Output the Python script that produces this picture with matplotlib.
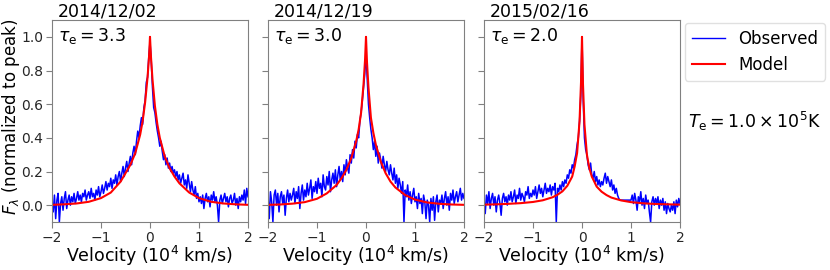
import numpy as np
import matplotlib
matplotlib.use("Agg")
import matplotlib.pyplot as plt
from matplotlib.lines import Line2D

# epochs and fitted optical depths
datas = ["2014/12/02", "2014/12/19", "2015/02/16"]
taus = ["3.3", "3.0", "2.0"]

# observed spectra, sampled from -2 to 2 (10^4 km/s)
v_min, v_max = -2.0, 2.0

obs_1 = [
    0.02, -0.04, 0.06, -0.08, 0.03, 0.07, -0.10, 0.01, 0.05, -0.03, 0.04, 0.08, -0.02, 0.03, 0.06, 0.00, 0.05, 0.02, 0.07, 0.01,
    0.04, 0.08, 0.03, 0.06, 0.02, 0.07, 0.05, 0.09, 0.03, 0.06, 0.08, 0.04, 0.10, 0.05, 0.07, 0.03, 0.09, 0.06, 0.11, 0.05,
    0.08, 0.12, 0.07, 0.10, 0.14, 0.09, 0.13, 0.11, 0.16, 0.10, 0.15, 0.13, 0.18, 0.12, 0.17, 0.20, 0.14, 0.19, 0.23, 0.17,
    0.22, 0.26, 0.20, 0.25, 0.29, 0.24, 0.31, 0.35, 0.30, 0.38, 0.44, 0.40, 0.47, 0.52, 0.48, 0.58, 0.62, 0.73, 0.76, 0.88,
    0.97,
    0.86, 0.70, 0.58, 0.55, 0.49, 0.44, 0.40, 0.35, 0.38, 0.32, 0.27, 0.30, 0.24, 0.28, 0.22, 0.25, 0.20, 0.23, 0.19, 0.21,
    0.17, 0.20, 0.15, 0.18, 0.13, 0.16, 0.19, 0.12, 0.15, 0.10, 0.18, 0.13, 0.08, 0.14, 0.09, 0.06, 0.11, 0.04, 0.07, 0.02,
    0.05, 0.01, 0.06, -0.02, 0.04, 0.07, 0.02, 0.05, -0.01, 0.06, 0.03, 0.08, 0.02, 0.05, 0.00, -0.10, 0.03, 0.06, 0.01, 0.04,
    0.07, 0.02, 0.05, -0.01, 0.04, 0.06, 0.01, 0.03, 0.07, 0.00, 0.04, -0.02, 0.05, 0.02, 0.06, 0.03, 0.09, 0.01, 0.10, 0.05,
]
obs_2 = [
    0.05, -0.08, 0.08, 0.02, -0.10, 0.06, 0.09, 0.00, 0.07, -0.04, 0.05, 0.08, 0.01, 0.06, -0.06, 0.04, 0.09, 0.02, 0.07, 0.03,
    0.06, 0.10, 0.01, 0.08, 0.04, 0.11, -0.02, 0.07, 0.12, 0.03, 0.09, 0.05, 0.13, 0.06, 0.10, 0.15, 0.04, 0.11, 0.08, 0.14,
    0.07, 0.16, 0.10, 0.13, 0.05, 0.18, 0.11, 0.09, 0.17, 0.12, 0.20, 0.08, 0.15, 0.19, 0.13, 0.21, 0.11, 0.18, 0.23, 0.15,
    0.20, 0.14, 0.24, 0.18, 0.27, 0.22, 0.19, 0.30, 0.25, 0.33, 0.28, 0.38, 0.34, 0.42, 0.40, 0.50, 0.55, 0.62, 0.70, 0.78,
    0.90,
    0.75, 0.60, 0.52, 0.45, 0.40, 0.33, 0.38, 0.29, 0.35, 0.25, 0.31, 0.27, 0.22, 0.29, 0.24, 0.20, 0.26, 0.21, 0.18, 0.24,
    0.19, 0.15, 0.22, 0.13, 0.18, 0.10, 0.16, 0.12, 0.07, 0.14, -0.10, 0.09, 0.05, 0.12, 0.03, 0.08, 0.01, 0.06, 0.10, 0.02,
    0.05, -0.02, 0.07, 0.01, 0.04, -0.05, 0.06, 0.02, -0.08, 0.03, 0.00, -0.10, 0.04, -0.03, 0.05, -0.09, 0.02, 0.06, -0.04, 0.03,
    0.01, 0.06, -0.02, 0.04, 0.08, 0.00, 0.05, -0.03, 0.07, 0.03, 0.09, 0.01, 0.05, 0.08, 0.02, 0.06, 0.10, 0.03, 0.07, 0.04,
]
obs_3 = [
    0.03, -0.05, 0.06, 0.01, 0.08, -0.02, 0.04, 0.07, 0.00, 0.05, -0.04, 0.03, 0.06, 0.01, -0.06, 0.04, 0.07, 0.02, 0.05, 0.00,
    0.06, 0.03, 0.08, 0.02, 0.05, 0.09, 0.01, 0.06, 0.04, 0.10, 0.03, 0.07, 0.05, 0.02, 0.08, 0.06, 0.11, 0.04, 0.07, 0.05,
    0.09, 0.06, 0.11, 0.04, 0.08, 0.12, 0.07, 0.10, 0.05, 0.09, 0.13, 0.07, 0.10, 0.08, 0.12, 0.06, 0.11, 0.09, 0.13, -0.10,
    0.10, 0.08, 0.12, 0.09, 0.14, 0.11, 0.15, 0.13, 0.18, 0.16, 0.21, 0.19, 0.24, 0.22, 0.27, 0.30, 0.36, 0.40, 0.50, 0.65,
    1.00,
    0.62, 0.40, 0.33, 0.30, 0.24, 0.21, 0.25, 0.18, 0.16, 0.20, 0.14, 0.17, 0.12, 0.15, 0.11, 0.14, 0.12, 0.16, 0.19, 0.13,
    0.17, 0.14, 0.11, 0.15, 0.09, 0.12, 0.07, 0.10, 0.06, 0.04, 0.03, 0.03, 0.03, 0.03, 0.03, 0.03, 0.03, 0.03, 0.03, 0.03,
    0.06, 0.01, 0.07, 0.03, -0.03, 0.05, 0.02, 0.08, 0.00, 0.04, -0.02, 0.06, 0.01, 0.03, -0.04, -0.10, 0.02, 0.05, 0.00, 0.04,
    0.01, 0.05, -0.02, 0.03, 0.00, 0.04, -0.03, 0.02, -0.05, 0.01, -0.02, -0.04, 0.00, -0.03, 0.02, -0.05, 0.03, -0.01, 0.04, 0.01,
]

# model profiles
model_v = [-2.0, -1.75, -1.5, -1.25, -1.0, -0.8, -0.6, -0.5, -0.4, -0.3, -0.2, -0.15, -0.1, -0.05, -0.02,
           0.0, 0.02, 0.05, 0.1, 0.15, 0.2, 0.3, 0.4, 0.5, 0.6, 0.8, 1.0, 1.25, 1.5, 1.75, 2.0]
model_1 = [0.002, 0.005, 0.01, 0.02, 0.042, 0.075, 0.14, 0.19, 0.24, 0.31, 0.42, 0.50, 0.61, 0.76, 0.88,
           1.0, 0.88, 0.75, 0.59, 0.48, 0.40, 0.29, 0.22, 0.17, 0.13, 0.075, 0.042, 0.02, 0.01, 0.005, 0.002]
model_2 = [0.002, 0.004, 0.009, 0.018, 0.038, 0.07, 0.12, 0.16, 0.21, 0.28, 0.38, 0.45, 0.55, 0.72, 0.86,
           1.0, 0.85, 0.70, 0.52, 0.43, 0.36, 0.26, 0.19, 0.14, 0.105, 0.06, 0.033, 0.016, 0.008, 0.004, 0.002]
model_3 = [0.003, 0.005, 0.008, 0.012, 0.019, 0.029, 0.047, 0.062, 0.082, 0.115, 0.17, 0.23, 0.31, 0.50, 0.73,
           1.0, 0.72, 0.48, 0.30, 0.22, 0.17, 0.11, 0.08, 0.06, 0.045, 0.028, 0.018, 0.011, 0.007, 0.005, 0.003]

observados = [obs_1, obs_2, obs_3]
modelos = [model_1, model_2, model_3]

fig = plt.figure(figsize=(8.3, 2.7), dpi=100)
lefts = [52 / 830, 268 / 830, 484 / 830]
W, H = 196 / 830, 202 / 270
B = 48 / 270

for k in range(3):
    ax = fig.add_axes([lefts[k], B, W, H])
    obs = observados[k]
    v_obs = np.linspace(v_min, v_max, len(obs))
    ax.plot(v_obs, obs, color="blue", lw=1.1)
    ax.plot(model_v, modelos[k], color="red", lw=1.5)
    ax.set_xlim(-2, 2)
    ax.set_ylim(-0.1, 1.1)
    ax.set_xticks([-2, -1, 0, 1, 2])
    ax.set_yticks([0.0, 0.2, 0.4, 0.6, 0.8, 1.0])
    ax.tick_params(direction="out", length=4, color="0.5", labelsize=10, labelcolor="#262626", pad=2.5)
    for s in ax.spines.values():
        s.set_color("0.5")
    if k > 0:
        ax.set_yticklabels([])
    else:
        ax.set_ylabel(r"$F_\lambda$ (normalized to peak)", fontsize=12)
        ax.yaxis.set_label_coords(-0.152, 0.52)
    ax.set_xlabel(r"Velocity ($10^4$ km/s)", fontsize=12.5)
    ax.xaxis.set_label_coords(0.5, -0.11)
    ax.text(0.03, 1.0, datas[k], transform=ax.transAxes, fontsize=12.5, va="bottom", ha="left")
    ax.text(0.03, 0.97, r"$\tau_{\rm e} = %s$" % taus[k], transform=ax.transAxes,
            fontsize=12.5, va="top", ha="left")
    if k == 2:
        handles = [Line2D([], [], color="blue", lw=1.0), Line2D([], [], color="red", lw=1.5)]
        leg = ax.legend(handles, ["Observed", "Model"], loc="upper left",
                        bbox_to_anchor=(1.0, 1.01), fontsize=12, frameon=True, borderaxespad=0.3)
        leg.get_frame().set_edgecolor("0.85")

fig.text(688 / 830, 1 - 121 / 270, r"$T_{\rm e} = 1.0 \times 10^5$K", fontsize=12.5, va="center", ha="left")

fig.savefig("out.png", dpi=100)
